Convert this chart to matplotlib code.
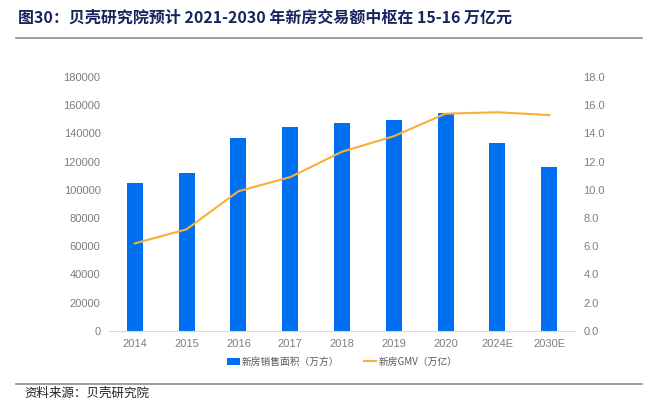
import matplotlib.pyplot as plt
import numpy as np

plt.rcParams['font.family'] = ['Noto Sans CJK SC', 'DejaVu Sans']

years = ['2014', '2015', '2016', '2017', '2018', '2019', '2020', '2024E', '2030E']
area = [104500, 111800, 137000, 144400, 147200, 149500, 154300, 133000, 116000]
gmv = [6.2, 7.2, 9.9, 10.9, 12.7, 13.8, 15.4, 15.5, 15.3]

bar_color = '#0070F0'
line_color = '#F9AE36'
tick_color = '#7F7F7F'

fig = plt.figure(figsize=(6.52, 4.01), dpi=100)
ax = fig.add_axes([0.167, 0.175, 0.715, 0.633])
ax2 = ax.twinx()

x = np.arange(len(years))
b = ax.bar(x, area, width=0.31, color=bar_color, label='新房销售面积（万方）', zorder=2)
l, = ax2.plot(x, gmv, color=line_color, linewidth=1.5, label='新房GMV（万亿）', zorder=3)

ax.set_xlim(-0.5, len(years) - 0.5)
ax.set_ylim(0, 180000)
ax.set_yticks(np.arange(0, 180001, 20000))
ax2.set_ylim(0, 18)
ax2.set_yticks(np.arange(0, 18.1, 2))
ax2.set_yticklabels([f'{v:.1f}' for v in np.arange(0, 18.1, 2)])
ax.set_xticks(x)
ax.set_xticklabels(years)

for a in (ax, ax2):
    for s in ['top', 'left', 'right']:
        a.spines[s].set_visible(False)
    a.spines['bottom'].set_color('#D9D9D9')
    a.tick_params(length=0, labelsize=8, labelcolor=tick_color, pad=6)
    for t in a.get_xticklabels() + a.get_yticklabels():
        t.set_family('Liberation Sans')
ax2.spines['bottom'].set_visible(False)

fig.legend(handles=[b, l], loc='center', bbox_to_anchor=(0.525, 0.098), ncol=2, frameon=False,
           fontsize=7, labelcolor='#595959', handlelength=1.3, handletextpad=0.2, columnspacing=2.5)

fig.text(0.028, 0.955, '图30：贝壳研究院预计 2021-2030 年新房交易额中枢在 15-16 万亿元',
         fontsize=11.5, fontweight='bold', color='#17255E', va='center')
fig.add_artist(plt.Line2D([0.025, 0.985], [0.905, 0.905], color='#8C8C8C', linewidth=1.2))
fig.add_artist(plt.Line2D([0.025, 0.985], [0.042, 0.042], color='#8C8C8C', linewidth=1.2))
fig.text(0.038, 0.019, '资料来源：贝壳研究院', fontsize=9, color='#222222', va='center',
         fontweight='light')

fig.savefig('out.png', dpi=100)
